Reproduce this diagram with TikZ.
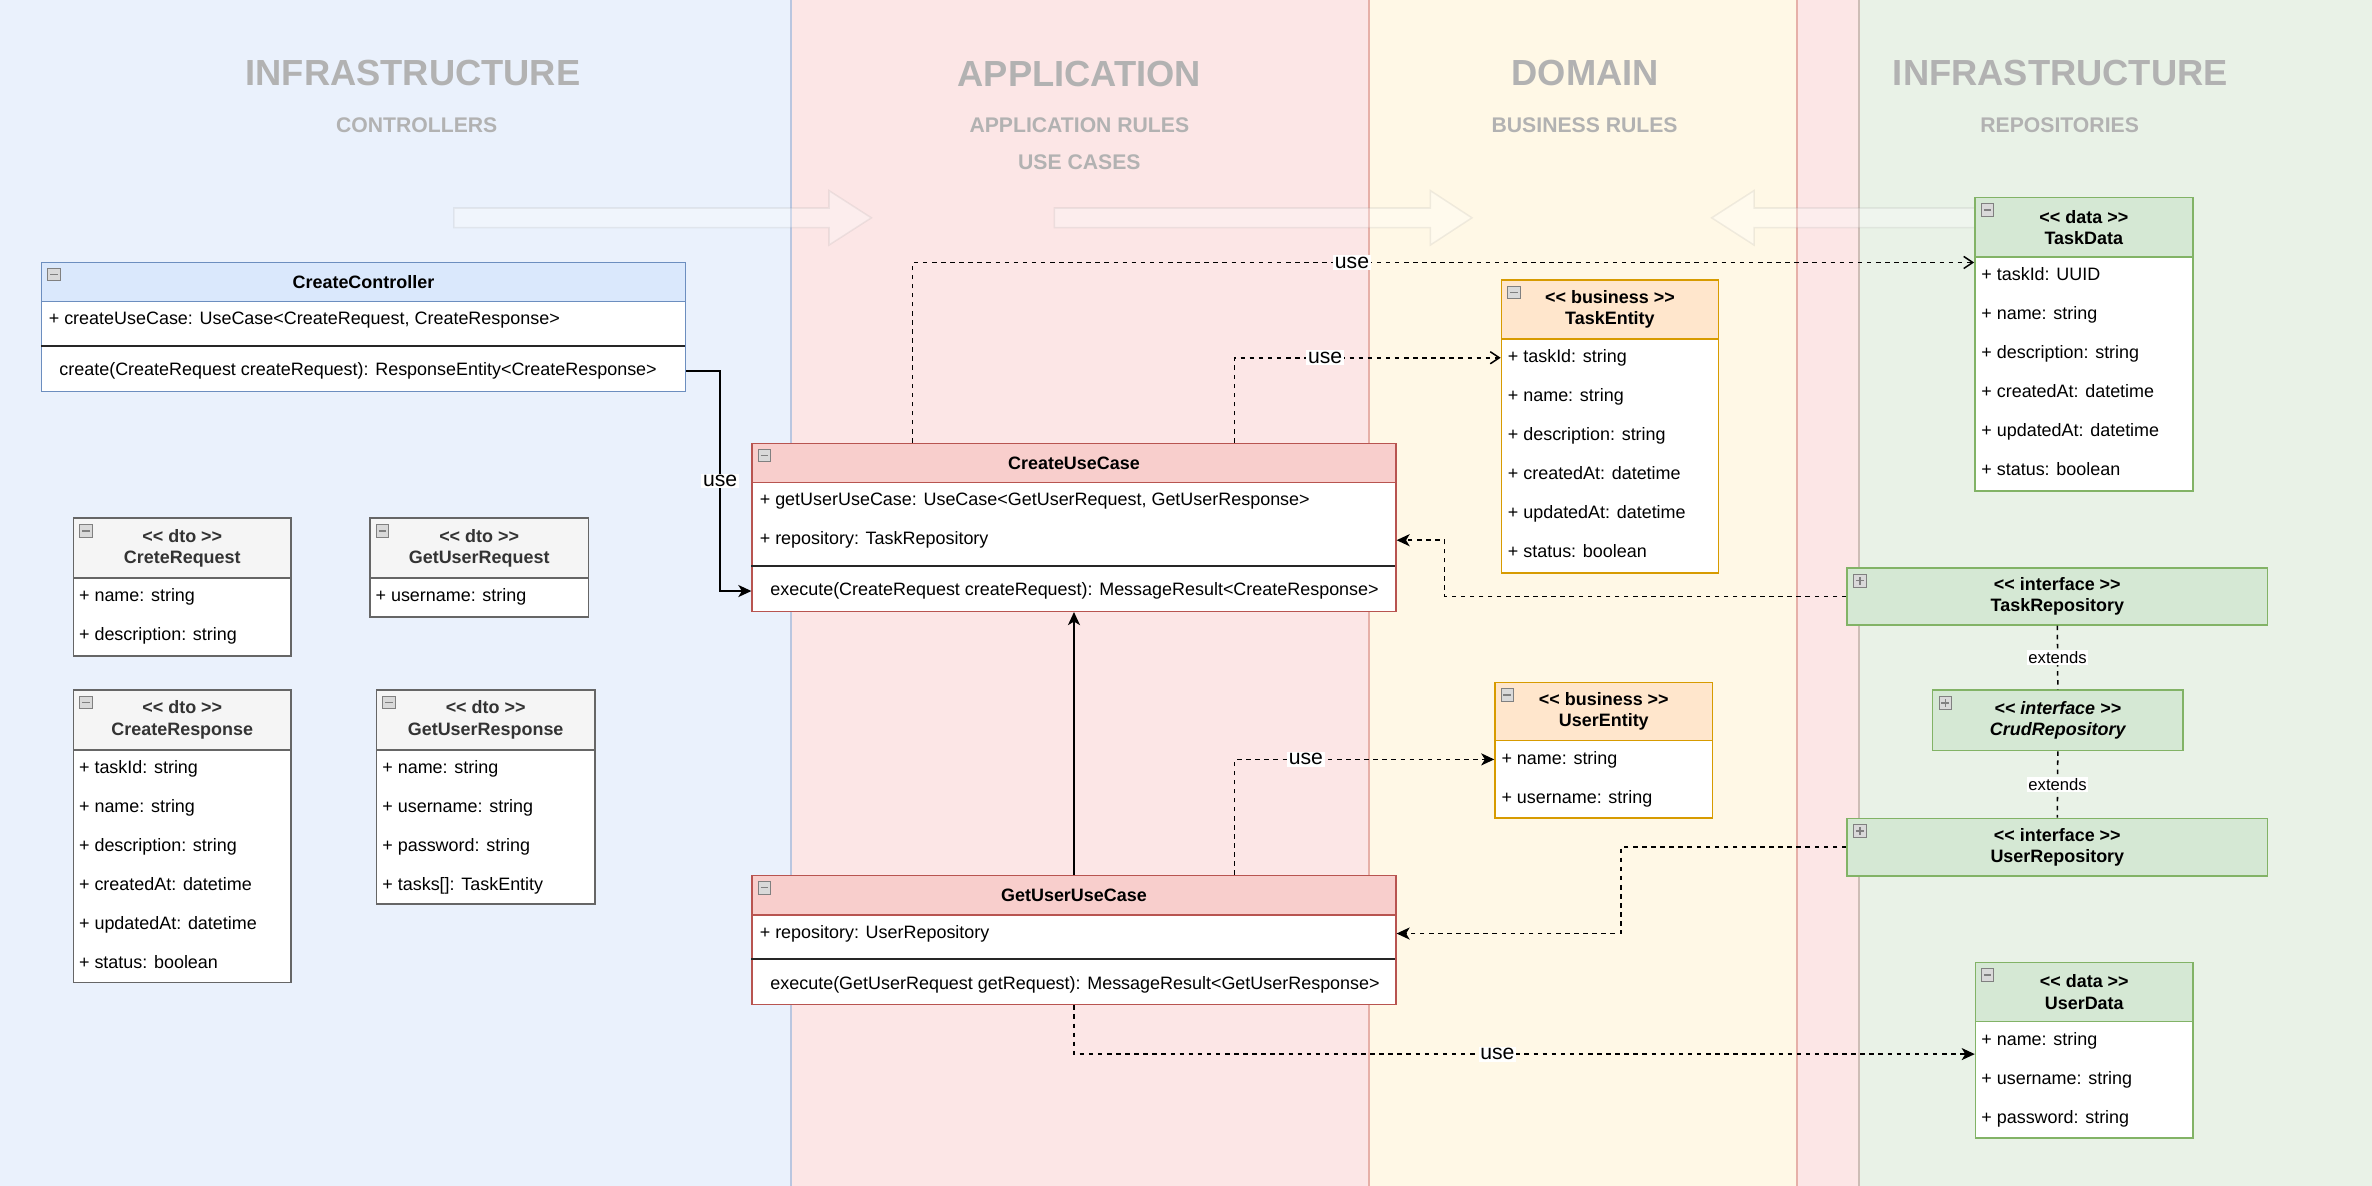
\documentclass[tikz,border=0pt]{standalone}
\usepackage{fontspec}
\setmainfont{Liberation Sans}
\usetikzlibrary{arrows.meta,calc}

\newcommand{\dpx}{0.75pt}
\newcommand{\stereo}[1]{<{}< #1 >{}>}
\newcommand{\rowfont}{\fontsize{8.9}{10.5}\selectfont}

\definecolor{bandblue}{HTML}{EAF1FC}
\definecolor{bandred}{HTML}{FCE6E6}
\definecolor{bandyellow}{HTML}{FFF8E6}
\definecolor{bandgreen}{HTML}{E9F2E7}
\definecolor{edgeblue}{HTML}{B9C6E0}
\definecolor{edgered}{HTML}{E6B0A8}
\definecolor{edgegreen}{HTML}{CDBDB6}
\definecolor{layergray}{HTML}{B2B2B2}
\definecolor{ctrlline}{HTML}{6C8EBF}
\definecolor{ctrlfill}{HTML}{DAE8FC}
\definecolor{caseline}{HTML}{B85450}
\definecolor{casefill}{HTML}{F8CECC}
\definecolor{dtoline}{HTML}{666666}
\definecolor{dtofill}{HTML}{F5F5F5}
\definecolor{dtotext}{HTML}{333333}
\definecolor{entline}{HTML}{D79B00}
\definecolor{entfill}{HTML}{FFE6CC}
\definecolor{dataline}{HTML}{82B366}
\definecolor{datafill}{HTML}{D5E8D4}

\tikzset{
  classbox/.style={draw=#1, fill=white, line width=0.75pt, anchor=north west, inner sep=0pt},
  classhead/.style 2 args={draw=#1, fill=#2, line width=0.75pt, anchor=north west, inner sep=0pt, align=center, font=\rowfont\bfseries},
  attrrow/.style={anchor=west, inner sep=0pt, text height=6.6pt, text depth=1.9pt, font=\rowfont},
  sepline/.style={line width=1.1pt, draw=black!85},
  minusicon/.style={draw=gray, fill=gray!30, minimum size=6.2pt, inner sep=0pt, anchor=north west,
    path picture={\draw[line width=0.8pt] ([xshift=1.2pt]path picture bounding box.west) -- ([xshift=-1.2pt]path picture bounding box.east);}},
  plusicon/.style={draw=gray, fill=gray!30, minimum size=6.2pt, inner sep=0pt, anchor=north west,
    path picture={\draw[line width=0.7pt] ([xshift=1.2pt]path picture bounding box.west) -- ([xshift=-1.2pt]path picture bounding box.east)
      ([yshift=1.2pt]path picture bounding box.south) -- ([yshift=-1.2pt]path picture bounding box.north);}},
  layertitle/.style={font=\fontsize{18}{21}\selectfont\bfseries, text=layergray, inner sep=0pt},
  layersub/.style={font=\fontsize{10.5}{12}\selectfont\bfseries, text=layergray, inner sep=0pt},
  bigarrow/.style={fill=white, fill opacity=0.3, draw=gray, draw opacity=0.12, line width=0.75pt},
  solidlink/.style={line width=0.75pt, -{Stealth[length=6.5pt, width=6pt, inset=1.8pt]}},
  uselink/.style={line width=0.75pt, dash pattern=on 2.25pt off 2.25pt},
  openend/.style={-{Straight Barb[length=4.5pt, width=6pt]}},
  fillend/.style={-{Stealth[length=6.5pt, width=6pt, inset=1.8pt]}},
  uselabel/.style={fill=white, inner sep=0.8pt, font=\fontsize{10.5}{12}\selectfont},
  extlabel/.style={fill=white, inner sep=0.8pt, font=\fontsize{8.25}{9.5}\selectfont},
}

\begin{document}
\begin{tikzpicture}[x=0.75pt, y=-0.75pt]
    \useasboundingbox (0,0) rectangle (1568,784);

    % Layer bands
    \fill[bandblue] (0,0) rectangle (523,784);
    \fill[bandred] (523,0) rectangle (905,784);
    \fill[bandyellow] (905,0) rectangle (1188,784);
    \fill[bandred] (1188,0) rectangle (1229,784);
    \fill[bandgreen] (1229,0) rectangle (1568,784);
    \draw[edgeblue, line width=0.75pt] (523,0) -- (523,784);
    \draw[edgered, line width=0.75pt] (905,0) -- (905,784);
    \draw[edgered, line width=0.75pt] (1188,0) -- (1188,784);
    \draw[edgegreen, line width=0.75pt] (1229,0) -- (1229,784);

    % Layer titles
    \node[layertitle] (infraLeft) at (273,48) {INFRASTRUCTURE};
    \node[layersub] (controllers) at (275.5,83) {CONTROLLERS};
    \node[layertitle] (application) at (713.5,49) {APPLICATION};
    \node[layersub] (appRules) at (713.5,83) {APPLICATION RULES};
    \node[layersub] (useCases) at (713.5,107) {USE CASES};
    \node[layertitle] (domain) at (1048,48) {DOMAIN};
    \node[layersub] (businessRules) at (1047.5,83) {BUSINESS RULES};
    \node[layertitle] (infraRight) at (1362,48) {INFRASTRUCTURE};
    \node[layersub] (repositories) at (1361.5,83) {REPOSITORIES};

    % Faint direction arrows
    \draw[bigarrow] (300,137.5) -- (548,137.5) -- (548,126) -- (576,144) -- (548,162) -- (548,150.5) -- (300,150.5) -- cycle;
    \draw[bigarrow] (697,137.5) -- (945.5,137.5) -- (945.5,126) -- (973,144) -- (945.5,162) -- (945.5,150.5) -- (697,150.5) -- cycle;
    \draw[bigarrow] (1330,137.5) -- (1159.5,137.5) -- (1159.5,126) -- (1131.5,144) -- (1159.5,162) -- (1159.5,150.5) -- (1330,150.5) -- cycle;

    % CreateController
    \node[classbox=ctrlline, minimum width=425.5*\dpx, minimum height=85.2*\dpx] (createController) at (27,173) {};
    \node[classhead={ctrlline}{ctrlfill}, minimum width=425.5*\dpx, minimum height=25.8*\dpx] (createControllerHead) at (27,173) {CreateController};
    \node[minusicon] (createControllerIcon) at (31.2,177) {};
    \node[attrrow] (ccUseCase) at (32,211.7) {+ createUseCase: UseCase<CreateRequest, CreateResponse>};
    \draw[sepline] (27,228.5) -- (452.5,228.5);
    \node[attrrow] (ccCreate) at (39,245.3) {create(CreateRequest createRequest): ResponseEntity<CreateResponse>};

    % CreateUseCase
    \node[classbox=caseline, minimum width=425.5*\dpx, minimum height=111*\dpx] (createUseCase) at (496.7,292.6) {};
    \node[classhead={caseline}{casefill}, minimum width=425.5*\dpx, minimum height=25.8*\dpx] (createUseCaseHead) at (496.7,292.6) {CreateUseCase};
    \node[minusicon] (createUseCaseIcon) at (501,296.6) {};
    \node[attrrow] (cucGetUser) at (502,331.3) {+ getUserUseCase: UseCase<GetUserRequest, GetUserResponse>};
    \node[attrrow] (cucRepo) at (502,357.1) {+ repository: TaskRepository};
    \draw[sepline] (496.7,373.9) -- (922.2,373.9);
    \node[attrrow] (cucExecute) at (509,390.7) {execute(CreateRequest createRequest): MessageResult<CreateResponse>};

    % GetUserUseCase
    \node[classbox=caseline, minimum width=425.5*\dpx, minimum height=85.2*\dpx] (getUserUseCase) at (496.7,578.4) {};
    \node[classhead={caseline}{casefill}, minimum width=425.5*\dpx, minimum height=25.8*\dpx] (getUserUseCaseHead) at (496.7,578.4) {GetUserUseCase};
    \node[minusicon] (getUserUseCaseIcon) at (501,582.4) {};
    \node[attrrow] (gucRepo) at (502,617.1) {+ repository: UserRepository};
    \draw[sepline] (496.7,633.9) -- (922.2,633.9);
    \node[attrrow] (gucExecute) at (509,650.9) {execute(GetUserRequest getRequest): MessageResult<GetUserResponse>};

    % CreteRequest
    \node[classbox=dtoline, minimum width=144*\dpx, minimum height=91*\dpx] (creteRequest) at (48,342) {};
    \node[classhead={dtoline}{dtofill}, text=dtotext, minimum width=144*\dpx, minimum height=39.7*\dpx] (creteRequestHead) at (48,342) {\stereo{dto}\\CreteRequest};
    \node[minusicon] (creteRequestIcon) at (52.5,346.5) {};
    \node[attrrow] (crName) at (52,394.6) {+ name: string};
    \node[attrrow] (crDescription) at (52,420.4) {+ description: string};

    % GetUserRequest
    \node[classbox=dtoline, minimum width=144.5*\dpx, minimum height=65.5*\dpx] (getUserRequest) at (244,342) {};
    \node[classhead={dtoline}{dtofill}, text=dtotext, minimum width=144.5*\dpx, minimum height=39.7*\dpx] (getUserRequestHead) at (244,342) {\stereo{dto}\\GetUserRequest};
    \node[minusicon] (getUserRequestIcon) at (248.5,346.5) {};
    \node[attrrow] (gurUsername) at (248,394.6) {+ username: string};

    % CreateResponse
    \node[classbox=dtoline, minimum width=144*\dpx, minimum height=193.5*\dpx] (createResponse) at (48,455.5) {};
    \node[classhead={dtoline}{dtofill}, text=dtotext, minimum width=144*\dpx, minimum height=39.7*\dpx] (createResponseHead) at (48,455.5) {\stereo{dto}\\CreateResponse};
    \node[minusicon] (createResponseIcon) at (52.5,460) {};
    \node[attrrow] (crsTaskId) at (52,508) {+ taskId: string};
    \node[attrrow] (crsName) at (52,533.8) {+ name: string};
    \node[attrrow] (crsDescription) at (52,559.6) {+ description: string};
    \node[attrrow] (crsCreatedAt) at (52,585.4) {+ createdAt: datetime};
    \node[attrrow] (crsUpdatedAt) at (52,611.2) {+ updatedAt: datetime};
    \node[attrrow] (crsStatus) at (52,637) {+ status: boolean};

    % GetUserResponse
    \node[classbox=dtoline, minimum width=144.5*\dpx, minimum height=141.5*\dpx] (getUserResponse) at (248.3,455.5) {};
    \node[classhead={dtoline}{dtofill}, text=dtotext, minimum width=144.5*\dpx, minimum height=39.7*\dpx] (getUserResponseHead) at (248.3,455.5) {\stereo{dto}\\GetUserResponse};
    \node[minusicon] (getUserResponseIcon) at (252.8,460) {};
    \node[attrrow] (gursName) at (252.5,508) {+ name: string};
    \node[attrrow] (gursUsername) at (252.5,533.8) {+ username: string};
    \node[attrrow] (gursPassword) at (252.5,559.6) {+ password: string};
    \node[attrrow] (gursTasks) at (252.5,585.4) {+ tasks[]: TaskEntity};

    % TaskEntity
    \node[classbox=entline, minimum width=143.5*\dpx, minimum height=193.8*\dpx] (taskEntity) at (992,184.6) {};
    \node[classhead={entline}{entfill}, minimum width=143.5*\dpx, minimum height=39*\dpx] (taskEntityHead) at (992,184.6) {\stereo{business}\\TaskEntity};
    \node[minusicon] (taskEntityIcon) at (996.5,189) {};
    \node[attrrow] (teTaskId) at (996.5,236.5) {+ taskId: string};
    \node[attrrow] (teName) at (996.5,262.3) {+ name: string};
    \node[attrrow] (teDescription) at (996.5,288.1) {+ description: string};
    \node[attrrow] (teCreatedAt) at (996.5,313.9) {+ createdAt: datetime};
    \node[attrrow] (teUpdatedAt) at (996.5,339.7) {+ updatedAt: datetime};
    \node[attrrow] (teStatus) at (996.5,365.5) {+ status: boolean};

    % UserEntity
    \node[classbox=entline, minimum width=143.8*\dpx, minimum height=89.8*\dpx] (userEntity) at (987.8,450.6) {};
    \node[classhead={entline}{entfill}, minimum width=143.8*\dpx, minimum height=38.4*\dpx] (userEntityHead) at (987.8,450.6) {\stereo{business}\\UserEntity};
    \node[minusicon] (userEntityIcon) at (992,455) {};
    \node[attrrow] (ueName) at (992.3,502) {+ name: string};
    \node[attrrow] (ueUsername) at (992.3,527.8) {+ username: string};

    % TaskData
    \node[classbox=dataline, minimum width=144*\dpx, minimum height=194*\dpx] (taskData) at (1305,130) {};
    \node[classhead={dataline}{datafill}, minimum width=144*\dpx, minimum height=39.5*\dpx] (taskDataHead) at (1305,130) {\stereo{data}\\TaskData};
    \node[minusicon] (taskDataIcon) at (1309.5,134.5) {};
    \node[attrrow] (tdTaskId) at (1309.5,182.4) {+ taskId: UUID};
    \node[attrrow] (tdName) at (1309.5,208.2) {+ name: string};
    \node[attrrow] (tdDescription) at (1309.5,234) {+ description: string};
    \node[attrrow] (tdCreatedAt) at (1309.5,259.8) {+ createdAt: datetime};
    \node[attrrow] (tdUpdatedAt) at (1309.5,285.6) {+ updatedAt: datetime};
    \node[attrrow] (tdStatus) at (1309.5,311.4) {+ status: boolean};

    % Repository interfaces
    \node[classhead={dataline}{datafill}, minimum width=278*\dpx, minimum height=37.6*\dpx] (taskRepository) at (1220.5,375) {\stereo{interface}\\TaskRepository};
    \node[plusicon] (taskRepositoryIcon) at (1225,379.5) {};
    \node[classhead={dataline}{datafill}, font=\rowfont\bfseries\itshape, minimum width=165.6*\dpx, minimum height=40*\dpx] (crudRepository) at (1277,455.7) {\stereo{interface}\\CrudRepository};
    \node[plusicon] (crudRepositoryIcon) at (1281.5,460.2) {};
    \node[classhead={dataline}{datafill}, minimum width=278*\dpx, minimum height=38*\dpx] (userRepository) at (1220.5,540.5) {\stereo{interface}\\UserRepository};
    \node[plusicon] (userRepositoryIcon) at (1225,545) {};

    % UserData
    \node[classbox=dataline, minimum width=143.8*\dpx, minimum height=116*\dpx] (userData) at (1305.4,635.8) {};
    \node[classhead={dataline}{datafill}, minimum width=143.8*\dpx, minimum height=39*\dpx] (userDataHead) at (1305.4,635.8) {\stereo{data}\\UserData};
    \node[minusicon] (userDataIcon) at (1309.5,640) {};
    \node[attrrow] (udName) at (1309.5,688) {+ name: string};
    \node[attrrow] (udUsername) at (1309.5,713.8) {+ username: string};
    \node[attrrow] (udPassword) at (1309.5,739.6) {+ password: string};

    % Connectors
    \draw[solidlink] (ccCreate -| createController.east) -- ++(22.5,0) |- node[uselabel, pos=0.25] (useController) {use} (cucExecute -| createUseCase.west);
    \draw[solidlink] (getUserUseCase.north) -- (createUseCase.south);
    \draw[uselink, openend] ($(createUseCase.north west)+(106.5,0)$) |- node[uselabel, pos=0.707] (useTaskData) {use} ($(taskData.north west)+(0,43.5)$);
    \draw[uselink, openend] ($(createUseCase.north west)+(319.5,0)$) |- node[uselabel, pos=0.67] (useTaskEntity) {use} (teTaskId -| taskEntity.west);
    \draw[uselink, fillend] (taskRepository.west) -- ++(-265.5,0) |- (cucRepo -| createUseCase.east);
    \draw[uselink, fillend] ($(getUserUseCase.north west)+(319.5,0)$) |- node[uselabel, pos=0.637] (useUserEntity) {use} (ueName -| userEntity.west);
    \draw[uselink, fillend] (userRepository.west) -- ++(-149,0) |- (gucRepo -| getUserUseCase.east);
    \draw[uselink, fillend] (getUserUseCase.south) |- node[uselabel, pos=0.735] (useUserData) {use} ($(userData.north west)+(0,61)$);

    % extends
    \draw[uselink] (taskRepository.south) -- node[extlabel] (extCrud) {extends} (crudRepository.north);
    \draw[uselink] (crudRepository.south) -- node[extlabel] (extUser) {extends} (userRepository.north);
\end{tikzpicture}
\end{document}
